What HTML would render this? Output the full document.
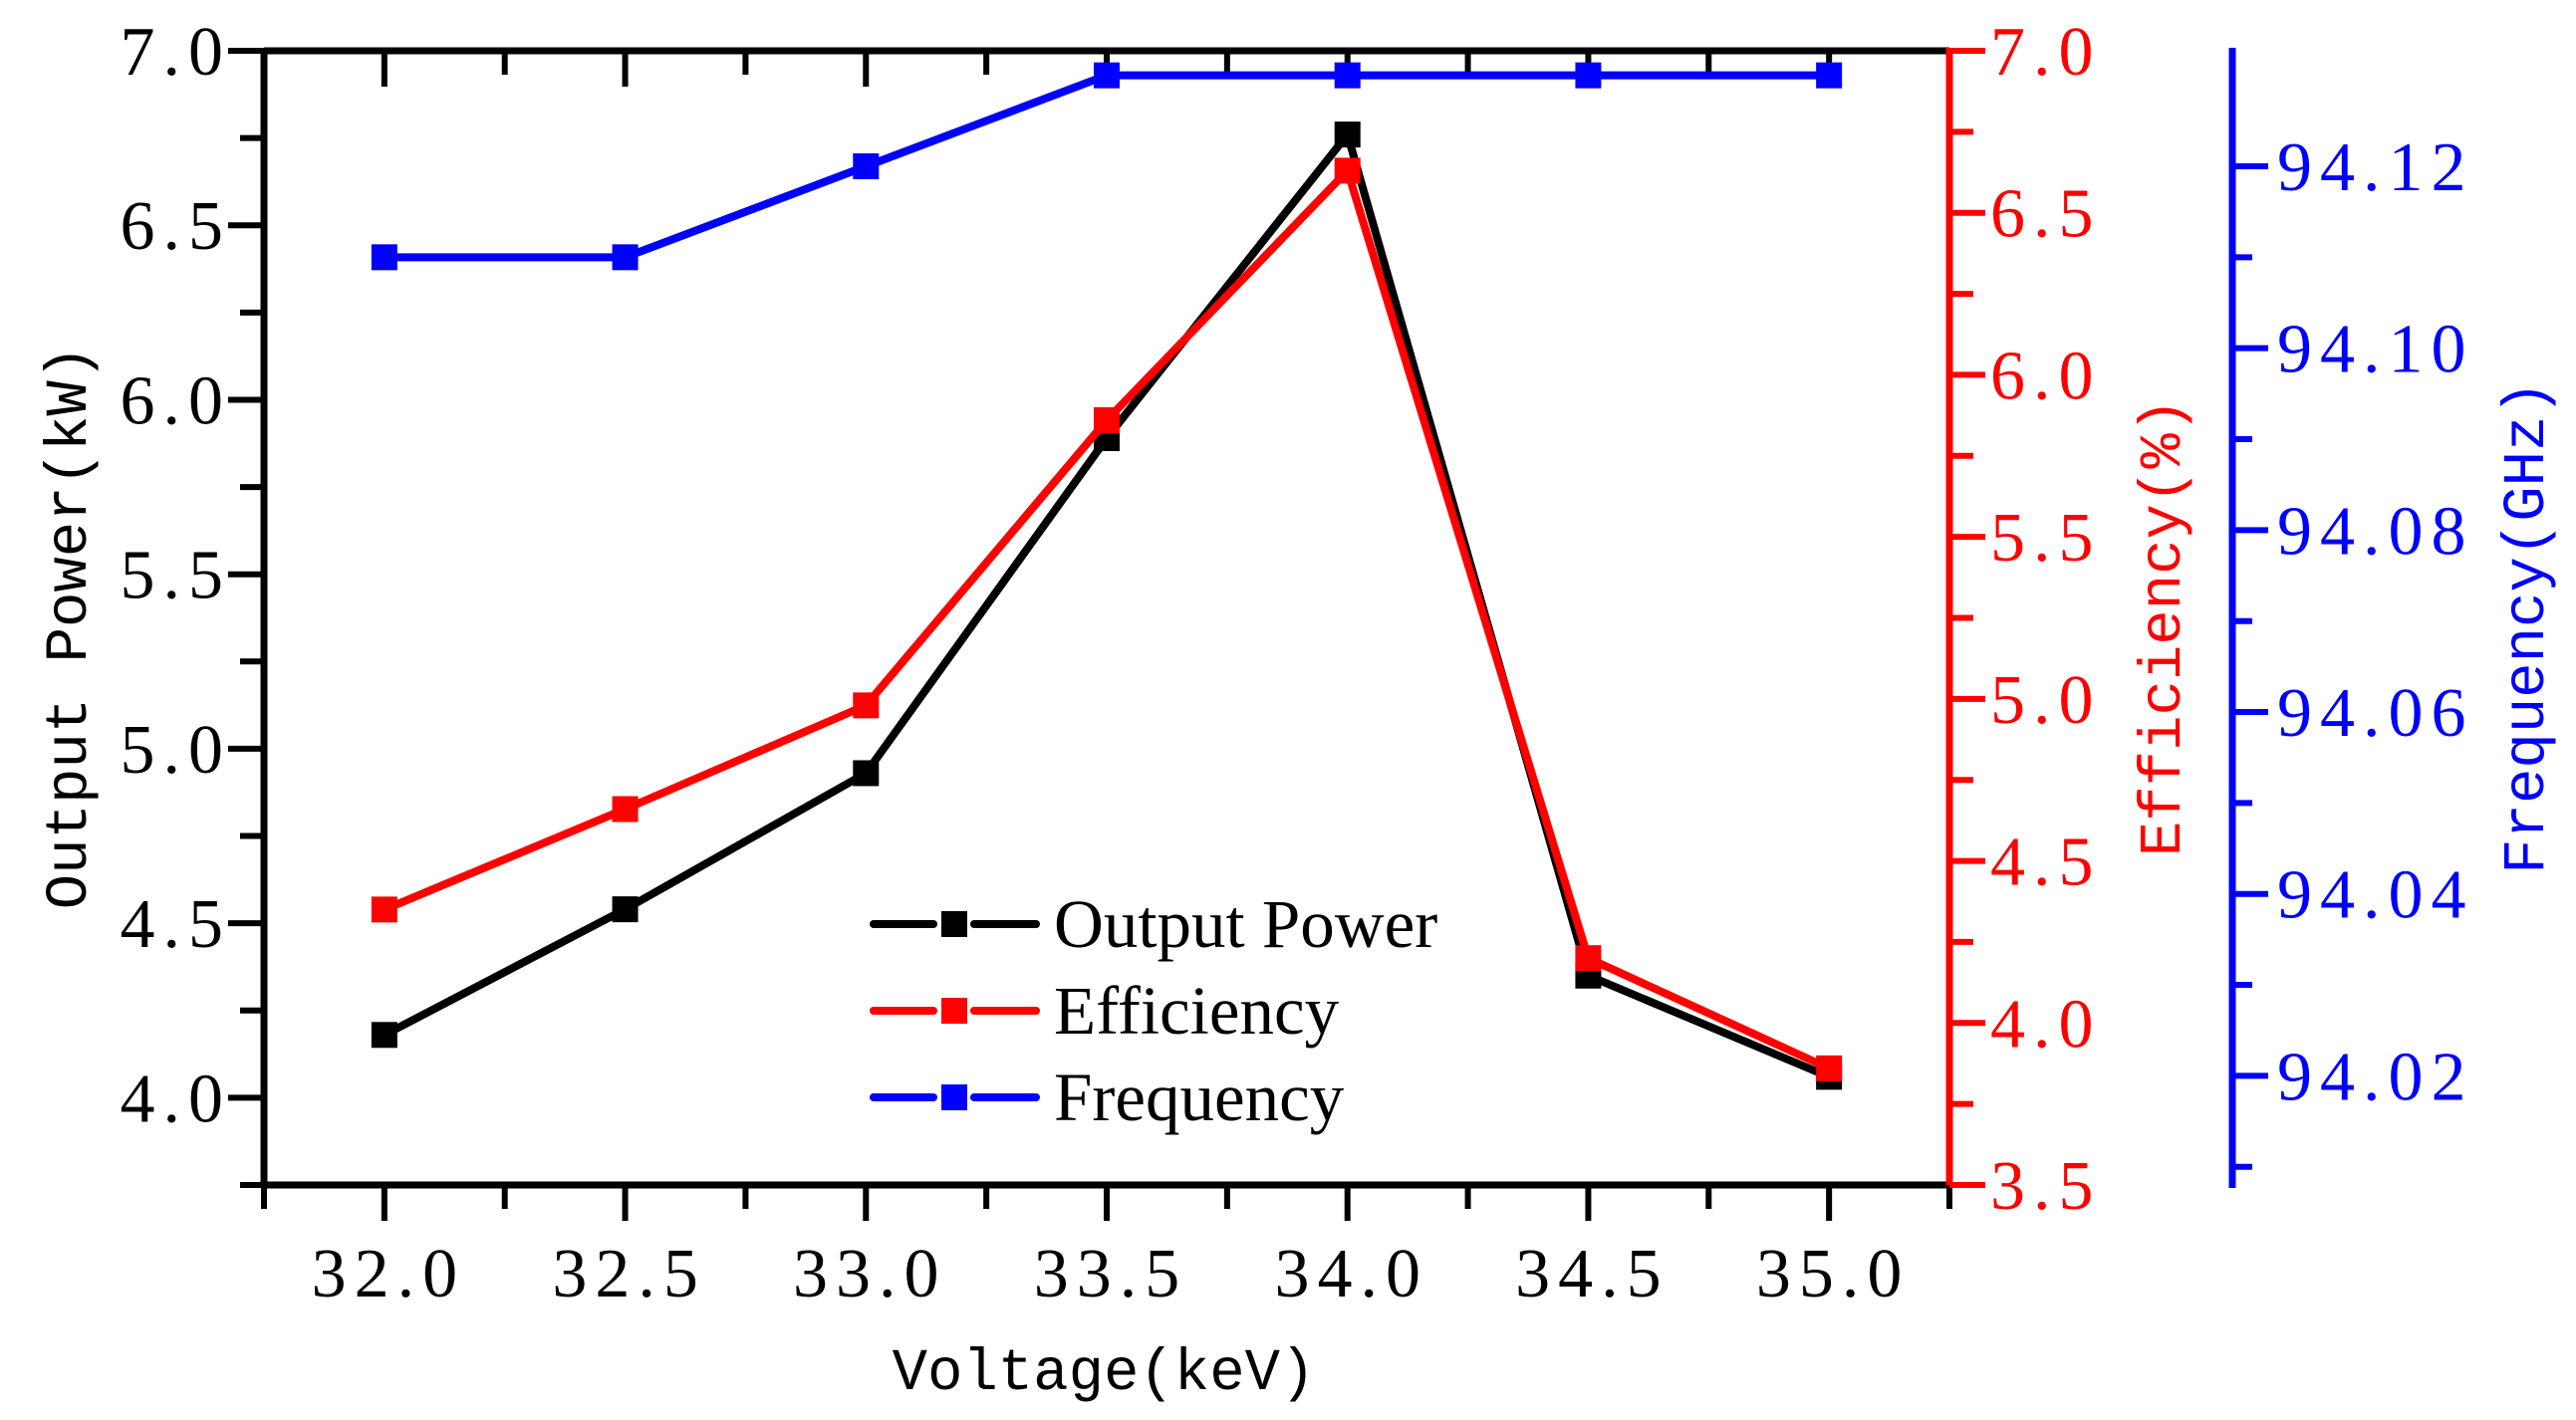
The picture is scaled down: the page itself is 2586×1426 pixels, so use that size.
<!DOCTYPE html>
<html><head><meta charset="utf-8"><style>
html,body{margin:0;padding:0;background:#fff;}
svg{display:block;}
.tk{font-family:"Liberation Serif","Noto Serif CJK SC",serif;font-size:70px;letter-spacing:8px;}
.ttl{font-family:"Liberation Mono","Noto Sans CJK SC",monospace;font-size:59px;}
.lg{font-family:"Liberation Serif",serif;font-size:69px;}
</style></head><body>
<svg id="chart" width="2586" height="1426" viewBox="0 0 2586 1426" xmlns="http://www.w3.org/2000/svg"></svg>
<script>
const categories = [32.0, 32.5, 33.0, 33.5, 34.0, 34.5, 35.0];
const powerValues = [4.18, 4.54, 4.93, 5.89, 6.76, 4.35, 4.06];
const efficiencyValues = [4.35, 4.66, 4.98, 5.86, 6.63, 4.20, 3.86];
const frequencyValues = [94.110, 94.110, 94.120, 94.130, 94.130, 94.130, 94.130];
const xTickLabels = ["32.0","32.5","33.0","33.5","34.0","34.5","35.0"];
const leftTickLabels = ["4.0","4.5","5.0","5.5","6.0","6.5","7.0"];
const redTickLabels = ["3.5","4.0","4.5","5.0","5.5","6.0","6.5","7.0"];
const blueTickLabels = ["94.02","94.04","94.06","94.08","94.10","94.12"];

const NS="http://www.w3.org/2000/svg";
const svg=document.getElementById('chart');
const L=265,R=1957,T=51,B=1190,BX=2241;
const xS=v=>L+(v-31.75)/(35.25-31.75)*(R-L);
const yL=v=>B-(v-3.75)/(7.0-3.75)*(B-T);
const yR=v=>B-(v-3.5)/(7.0-3.5)*(B-T);
const fMin=94.008,fMax=94.1327;
const yB=v=>B-(v-fMin)/(fMax-fMin)*(B-T);
function mk(tag,attrs,parent){const e=document.createElementNS(NS,tag);for(const k in attrs)e.setAttribute(k,attrs[k]);(parent||svg).appendChild(e);return e;}
function line(x1,y1,x2,y2,c,w,name){const e=mk('line',{x1,y1,x2,y2,stroke:c,'stroke-width':w});

return e;}
function text(x,y,s,cls,fill,anchor,name,extra){const e=mk('text',Object.assign({x,y,class:cls,fill,'text-anchor':anchor},extra||{}));e.textContent=s;

return e;}

line(L,T,R,T,'#000',7,'top-axis');
line(L,T-3,L,B+3,'#000',7,'left-axis');
line(L-3,B,R,B,'#000',7,'x-axis');
line(R,T-3,R,B+3,'#f00',7,'efficiency-axis');
line(BX,T-3,BX,B+3,'#00f',7,'frequency-axis');

for(let v=31.75;v<=35.26;v+=0.25){const major=Math.abs((v*2)-Math.round(v*2))<1e-6;const x=xS(v);
line(x,B,x,B+(major?36:24),'#000',6,'x-tick');
if(major&&v>31.9&&v<35.1) line(x,T,x,T+36,'#000',6,'top-tick');
else if(v>31.9&&v<35.1) line(x,T,x,T+24,'#000',6,'top-minor-tick');}
categories.forEach((c,i)=>text(xS(c)+4,1302,xTickLabels[i],'tk','#000','middle','x-tick-label'));
for(let v=3.75;v<=7.01;v+=0.25){const major=Math.abs(v*2-Math.round(v*2))<1e-6;line(L,yL(v),L-(major?36:24),yL(v),'#000',6,'left-tick');}
leftTickLabels.forEach(s=>text(232,yL(parseFloat(s))+24,s,'tk','#000','end','left-tick-label'));
for(let v=3.5;v<=7.01;v+=0.25){const major=Math.abs(v*2-Math.round(v*2))<1e-6;line(R,yR(v),R+(major?36:24),yR(v),'#f00',6,'efficiency-tick');}
redTickLabels.forEach(s=>text(1998,yR(parseFloat(s))+24,s,'tk','#f00','start','efficiency-tick-label'));
for(let k=1;k<=12;k++){const v=94.0+k*0.01;const major=k%2===0;line(BX,yB(v),BX+(major?36:20),yB(v),'#00f',6,'frequency-tick');}
blueTickLabels.forEach(s=>text(2286,yB(parseFloat(s))+24,s,'tk','#00f','start','frequency-tick-label',{'letter-spacing':'9'}));

text(1108,1395,'Voltage(keV)','ttl','#000','middle','x-axis-title');
text(0,0,'Output Power(kW)','ttl','#000','middle','left-axis-title',{transform:'translate(86,630) rotate(-90)'});
text(0,0,'Efficiency(%)','ttl','#f00','middle','efficiency-axis-title',{transform:'translate(2188,630) rotate(-90)'});
text(0,0,'Frequency(GHz)','ttl','#00f','middle','frequency-axis-title',{transform:'translate(2553,630) rotate(-90)'});

function series(vals,ys,color,name){
 const pts=categories.map((c,i)=>xS(c)+','+ys(vals[i])).join(' ');
 const p=mk('polyline',{points:pts,fill:'none',stroke:color,'stroke-width':8,'stroke-linejoin':'round','stroke-linecap':'round'});
 
 
 categories.forEach((c,i)=>{const r=mk('rect',{x:xS(c)-13,y:ys(vals[i])-13,width:26,height:26,fill:color});
 
 });
}
series(frequencyValues,yB,'#00f','frequency');
series(powerValues,yL,'#000','output-power');
series(efficiencyValues,yR,'#f00','efficiency');

const leg=[['Output Power','#000',928],['Efficiency','#f00',1015],['Frequency','#00f',1102]];
leg.forEach(([s,c,y])=>{
 line(877,y,937,y,c,8,'legend-line').setAttribute('stroke-linecap','round');
 line(978,y,1040,y,c,8,'legend-line').setAttribute('stroke-linecap','round');
 const r=mk('rect',{x:945,y:y-13,width:26,height:26,fill:c});
 
 
 text(1058,y+23,s,'lg','#000','start','legend-entry');
});
</script>
</body></html>
